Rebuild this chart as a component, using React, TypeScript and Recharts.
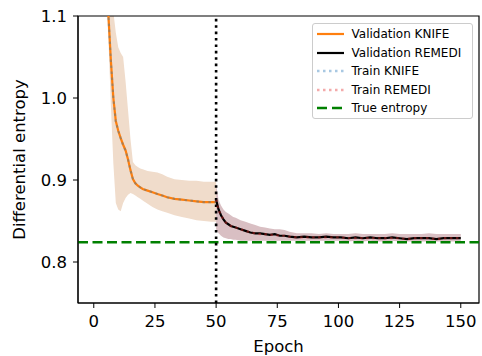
import {
  ComposedChart,
  Line,
  Area,
  XAxis,
  YAxis,
  ReferenceLine,
  ReferenceArea,
  Label,
} from 'recharts';

// KNIFE (validation), epochs 1..50
const knifeEpochs = [1, 2, 3, 4, 5, 6, 7, 8, 9, 10, 11, 12, 13, 14, 15, 16, 17, 18, 19, 20, 22, 24, 26, 28, 30, 33, 36, 39, 42, 45, 48, 50];
const knifeVal = [1.62, 1.46, 1.34, 1.25, 1.17, 1.1, 1.045, 1.0, 0.972, 0.96, 0.951, 0.943, 0.936, 0.925, 0.912, 0.901, 0.896, 0.893, 0.891, 0.889, 0.887, 0.885, 0.883, 0.881, 0.879, 0.877, 0.876, 0.875, 0.874, 0.873, 0.873, 0.873];
const knifeHigh = [1.75, 1.6, 1.48, 1.38, 1.3, 1.22, 1.16, 1.105, 1.08, 1.062, 1.055, 1.05, 1.02, 0.985, 0.95, 0.922, 0.918, 0.916, 0.914, 0.913, 0.911, 0.91, 0.909, 0.907, 0.904, 0.901, 0.9, 0.899, 0.899, 0.898, 0.898, 0.898];
const knifeLow = [1.5, 1.35, 1.26, 1.19, 1.13, 1.07, 0.99, 0.92, 0.872, 0.864, 0.862, 0.872, 0.878, 0.882, 0.884, 0.883, 0.881, 0.879, 0.877, 0.875, 0.871, 0.867, 0.864, 0.862, 0.86, 0.857, 0.855, 0.853, 0.851, 0.85, 0.849, 0.849];
// train curve sits right on top of the validation one
const trainKnife = [1.61, 1.45, 1.34, 1.25, 1.17, 1.1, 1.044, 1.0, 0.971, 0.96, 0.951, 0.942, 0.936, 0.925, 0.912, 0.901, 0.896, 0.893, 0.891, 0.889, 0.887, 0.885, 0.883, 0.881, 0.879, 0.877, 0.876, 0.875, 0.874, 0.873, 0.873, 0.873];

// REMEDI (validation), epochs 50..150
const remediEpochs = [50, 51, 52, 53, 54, 55, 56, 57, 58, 60, 62, 64, 66, 68, 70, 72, 74, 76, 78, 80, 83, 86, 89, 92, 95, 98, 101, 104, 107, 110, 113, 116, 119, 122, 125, 128, 131, 134, 137, 140, 143, 146, 150];
const remediVal = [0.876, 0.864, 0.857, 0.852, 0.848, 0.846, 0.844, 0.843, 0.842, 0.84, 0.838, 0.836, 0.835, 0.835, 0.834, 0.833, 0.834, 0.832, 0.832, 0.831, 0.83, 0.831, 0.83, 0.83, 0.831, 0.83, 0.83, 0.829, 0.83, 0.829, 0.83, 0.829, 0.829, 0.83, 0.829, 0.828, 0.829, 0.829, 0.829, 0.828, 0.829, 0.829, 0.829];
const remediHigh = [0.895, 0.876, 0.869, 0.864, 0.861, 0.859, 0.857, 0.855, 0.854, 0.851, 0.849, 0.847, 0.845, 0.843, 0.842, 0.841, 0.84, 0.84, 0.839, 0.837, 0.835, 0.835, 0.835, 0.834, 0.835, 0.834, 0.834, 0.834, 0.835, 0.834, 0.834, 0.834, 0.834, 0.835, 0.834, 0.834, 0.834, 0.834, 0.835, 0.834, 0.834, 0.834, 0.834];
const remediLow = [0.84, 0.835, 0.832, 0.83, 0.829, 0.828, 0.828, 0.827, 0.827, 0.826, 0.826, 0.826, 0.826, 0.826, 0.826, 0.826, 0.826, 0.826, 0.826, 0.826, 0.826, 0.826, 0.826, 0.826, 0.826, 0.826, 0.826, 0.825, 0.826, 0.825, 0.826, 0.825, 0.825, 0.826, 0.825, 0.825, 0.825, 0.825, 0.825, 0.825, 0.825, 0.825, 0.825];
const trainRemedi = [0.876, 0.863, 0.857, 0.852, 0.848, 0.846, 0.844, 0.843, 0.842, 0.84, 0.838, 0.836, 0.835, 0.834, 0.834, 0.833, 0.833, 0.832, 0.832, 0.831, 0.83, 0.83, 0.83, 0.83, 0.83, 0.83, 0.83, 0.829, 0.829, 0.829, 0.829, 0.829, 0.829, 0.829, 0.829, 0.828, 0.829, 0.829, 0.829, 0.828, 0.829, 0.829, 0.829];

const trueEntropy = 0.824;
const switchEpoch = 50;
const xTicks = [0, 25, 50, 75, 100, 125, 150];
const yTicks = [0.8, 0.9, 1.0, 1.1];

const ORANGE = '#ff7f0e';
const FONT = 'DejaVu Sans, sans-serif';

const rows: Record<number, any> = {};
knifeEpochs.forEach((e, i) => {
  rows[e] = {
    ...(rows[e] || { epoch: e }),
    knife: knifeVal[i],
    knifeBand: [knifeLow[i], knifeHigh[i]],
    trainKnife: trainKnife[i],
  };
});
remediEpochs.forEach((e, i) => {
  rows[e] = {
    ...(rows[e] || { epoch: e }),
    remedi: remediVal[i],
    remediBand: [remediLow[i], remediHigh[i]],
    trainRemedi: trainRemedi[i],
  };
});
const data = Object.values(rows).sort((a, b) => a.epoch - b.epoch);

const legendItems = [
  { name: 'Validation KNIFE', color: ORANGE, dash: undefined, width: 2.2 },
  { name: 'Validation REMEDI', color: '#000000', dash: undefined, width: 2.2 },
  { name: 'Train KNIFE', color: '#a8c8e2', dash: '2.5 3.5', width: 2.4 },
  { name: 'Train REMEDI', color: '#f3aaaa', dash: '2.5 3.5', width: 2.4 },
  { name: 'True entropy', color: '#008000', dash: '10 5', width: 2.4 },
];

function LegendBox() {
  return (
    <div
      style={{
        position: 'absolute',
        left: 312,
        top: 22.5,
        width: 161,
        height: 96,
        boxSizing: 'border-box',
        border: '1px solid #cccccc',
        borderRadius: 3,
        background: 'rgba(255,255,255,0.85)',
        paddingTop: 1.5,
        fontFamily: FONT,
        fontSize: 12,
        color: '#000',
      }}
    >
      {legendItems.map((it) => (
        <div key={it.name} style={{ height: 18.5, display: 'flex', alignItems: 'center' }}>
          <svg width={35} height={10} style={{ marginLeft: 3.5 }}>
            <line x1={0} y1={5} x2={27} y2={5} stroke={it.color} strokeWidth={it.width} strokeDasharray={it.dash} />
          </svg>
          <span style={{ whiteSpace: 'nowrap' }}>{it.name}</span>
        </div>
      ))}
    </div>
  );
}

export default function App() {
  return (
    <div style={{ position: 'absolute', left: 0, top: 0, width: 482, height: 356, background: '#fff' }}>
      <ComposedChart
        width={482}
        height={356}
        data={data}
        margin={{ top: 16, right: 3, bottom: 0, left: 0 }}
      >
        <XAxis
          dataKey="epoch"
          type="number"
          domain={[-6.45, 157.45]}
          ticks={xTicks}
          allowDataOverflow
          height={53}
          tickSize={5}
          tickMargin={7}
          stroke="#000"
          tick={{ fill: '#000', fontSize: 16.5, fontFamily: FONT }}
        >
          <Label value="Epoch" position="insideBottom" offset={4} style={{ fill: '#000', fontSize: 16.5, fontFamily: FONT }} />
        </XAxis>
        <YAxis
          type="number"
          domain={[0.75, 1.1]}
          ticks={yTicks}
          allowDataOverflow
          width={78}
          tickSize={5}
          tickMargin={6}
          stroke="#000"
          tickFormatter={(v: number) => v.toFixed(1)}
          tick={{ fill: '#000', fontSize: 16.5, fontFamily: FONT }}
        >
          <Label
            value="Differential entropy"
            angle={-90}
            position="insideLeft"
            offset={19}
            style={{ fill: '#000', fontSize: 16.5, fontFamily: FONT, textAnchor: 'middle' }}
          />
        </YAxis>

        <Area dataKey="knifeBand" type="linear" stroke="none" fill="#f0dccb" fillOpacity={1} connectNulls isAnimationActive={false} />
        <Area dataKey="remediBand" type="linear" stroke="none" fill="#d9bfc3" fillOpacity={1} connectNulls isAnimationActive={false} />

        <ReferenceLine y={trueEntropy} stroke="#008000" strokeWidth={2.4} strokeDasharray="10 4.5" />
        <ReferenceLine x={switchEpoch} stroke="#000" strokeWidth={2.6} strokeDasharray="2.6 3.8" />

        <Line dataKey="knife" type="linear" stroke={ORANGE} strokeWidth={2.2} dot={false} connectNulls isAnimationActive={false} />
        <Line dataKey="remedi" type="linear" stroke="#000" strokeWidth={2.2} dot={false} connectNulls isAnimationActive={false} />
        <Line dataKey="trainKnife" type="linear" stroke="#1f77b4" strokeOpacity={0.35} strokeWidth={2.2} strokeDasharray="2.5 3.5" dot={false} connectNulls isAnimationActive={false} />
        <Line dataKey="trainRemedi" type="linear" stroke="#d62728" strokeOpacity={0.45} strokeWidth={2.2} strokeDasharray="2.5 3.5" dot={false} connectNulls isAnimationActive={false} />

        <ReferenceArea x1={-6.45} x2={157.45} y1={0.75} y2={1.1} fill="none" stroke="#000" strokeWidth={1.2} ifOverflow="visible" />
      </ComposedChart>
      <LegendBox />
    </div>
  );
}
